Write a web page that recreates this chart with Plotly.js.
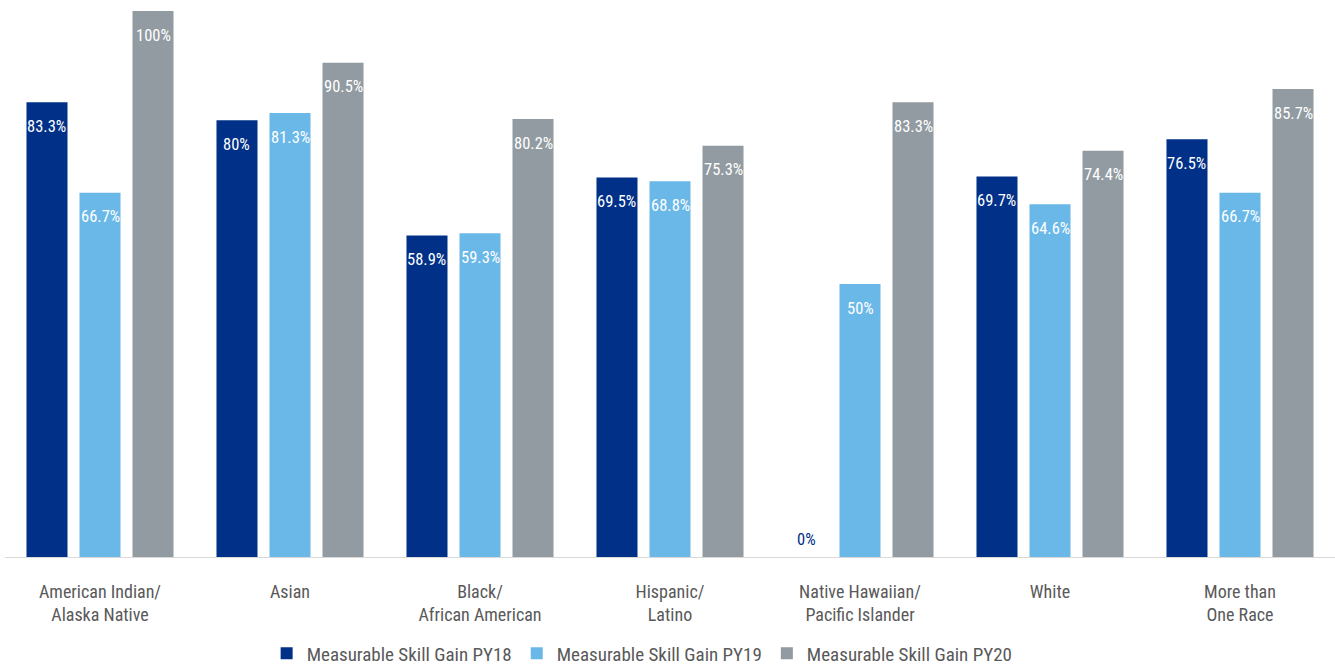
<!DOCTYPE html>
<html>
<head>
<meta charset="utf-8">
<script src="https://cdn.plot.ly/plotly-3.0.1.min.js"></script>
<style>html,body{margin:0;padding:0;background:#fff;}#chart{width:1335px;height:666px;}</style>
</head>
<body>
<div id="chart"></div>
<script>
const categories = ["American Indian/<br>Alaska Native", "Asian", "Black/<br>African American", "Hispanic/<br>Latino", "Native Hawaiian/<br>Pacific Islander", "White", "More than<br>One Race"];
const seriesNames = ["Measurable Skill Gain PY18", "Measurable Skill Gain PY19", "Measurable Skill Gain PY20"];
const py18 = [83.3, 80, 58.9, 69.5, 0, 69.7, 76.5];
const py19 = [66.7, 81.3, 59.3, 68.8, 50, 64.6, 66.7];
const py20 = [100, 90.5, 80.2, 75.3, 83.3, 74.4, 85.7];
const colors = ["#003087", "#6ab8e8", "#919ba1"];

const FONT = "'Liberation Sans Narrow', 'Roboto Condensed', 'DejaVu Sans Condensed', sans-serif";
const series = [py18, py19, py20];
const W = 1335, H = 666;
const margin = {l: 5, r: 0, t: 11, b: 109};
const bargap = 0.163, bargroupgap = 0.226;

const traces = series.map((vals, i) => ({
  type: 'bar', name: seriesNames[i], x: categories, y: vals,
  marker: {color: colors[i]}, hoverinfo: 'skip'
}));

const plotW = W - margin.l - margin.r;
const catW = plotW / categories.length;
const step = catW * (1 - bargap) / series.length;

const annotations = [];
series.forEach((vals, i) => {
  vals.forEach((v, j) => {
    const zero = v === 0;
    annotations.push({
      x: categories[j], y: v, xref: 'x', yref: 'y',
      text: v + '%', showarrow: false,
      xshift: (i - 1) * step, yshift: zero ? 18 : -24,
      yanchor: 'middle', xanchor: 'center',
      font: {family: FONT, size: 16.5, color: zero ? colors[0] : '#ffffff'}
    });
  });
});

const layout = {
  width: W, height: H, margin: margin,
  paper_bgcolor: '#fff', plot_bgcolor: '#fff',
  barmode: 'group', bargap: bargap, bargroupgap: bargroupgap,
  font: {family: FONT, size: 18, color: '#595959'},
  xaxis: {showline: true, linecolor: '#d9d9d9', linewidth: 1, ticks: '', showgrid: false, automargin: false,
          tickfont: {family: FONT, size: 18, color: '#595959'}, ticklabelstandoff: 18, fixedrange: true},
  yaxis: {range: [0, 100], visible: false, showgrid: false, zeroline: false, fixedrange: true, automargin: false},
  showlegend: true,
  legend: {orientation: 'h', x: 0.481, xanchor: 'center', xref: 'container', yref: 'container', y: 0.019, yanchor: 'middle',
           font: {family: FONT, size: 19, color: '#595959'}, itemwidth: 30, tracegroupgap: 0},
  annotations: annotations
};

Plotly.newPlot('chart', traces, layout, {displayModeBar: false, staticPlot: true});
</script>
</body>
</html>
